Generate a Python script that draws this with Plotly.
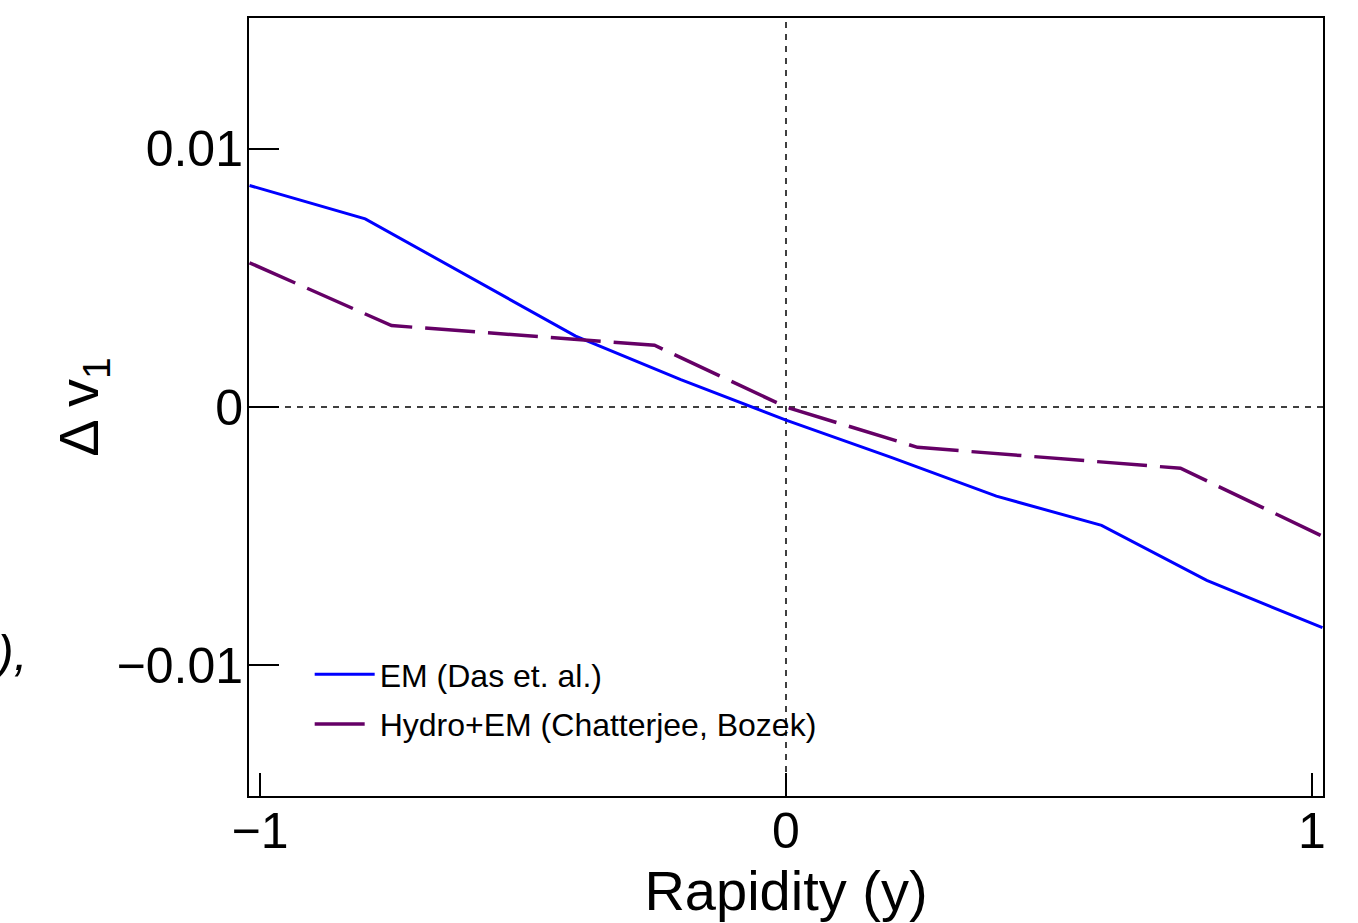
import plotly.graph_objects as go

# Data
em_y = [-1.02, -0.8, -0.4, -0.2, 0.0, 0.2, 0.4, 0.6, 0.8, 1.02]
em_v1 = [0.00857, 0.00728, 0.00274, 0.00106, -0.00051, -0.00195, -0.00345, -0.00458, -0.00671, -0.00854]

hydro_y = [-1.02, -0.75, -0.25, 0.0, 0.25, 0.75, 1.02]
hydro_v1 = [0.00558, 0.00315, 0.00239, 0.0, -0.00156, -0.00237, -0.00500]

ytick_vals = [-0.01, 0, 0.01]
ytick_text = ["\u22120.01", "0", "0.01"]
xtick_vals = [-1, 0, 1]
xtick_text = ["\u22121", "0", "1"]

FONT = "Liberation Sans, Arial, Helvetica, sans-serif"

fig = go.Figure()
fig.add_trace(go.Scatter(x=em_y, y=em_v1, mode="lines", name="EM (Das et. al.)",
                         legendgroup="a",
                         line=dict(color="#0000ff", width=3)))
fig.add_trace(go.Scatter(x=hydro_y, y=hydro_v1, mode="lines", name="Hydro+EM (Chatterjee, Bozek)",
                         legendgroup="b",
                         line=dict(color="#650066", width=3.5, dash="50px,13px")))

# reference dashed lines at 0
fig.add_shape(type="line", xref="x", yref="paper", x0=0, x1=0, y0=0, y1=1,
              line=dict(color="black", width=1.5, dash="6px,6px"), layer="below")
fig.add_shape(type="line", xref="paper", yref="y", x0=0, x1=1, y0=0, y1=0,
              line=dict(color="black", width=1.5, dash="6px,6px"), layer="below")

fig.add_annotation(text="<i>),</i>", xref="paper", yref="y", x=-0.204, y=-0.0095,
                   xanchor="right", yanchor="middle", showarrow=False,
                   font=dict(family=FONT, size=50, color="black"))

fig.update_layout(
    width=1358, height=923,
    margin=dict(l=249, r=35, t=18, b=127),
    paper_bgcolor="white", plot_bgcolor="white",
    font=dict(family=FONT, color="black"),
    showlegend=True,
    legend=dict(x=0.0565, y=0.1915, xanchor="left", yanchor="top",
                bgcolor="rgba(0,0,0,0)", font=dict(family=FONT, size=32),
                tracegroupgap=5, itemwidth=60),
    xaxis=dict(range=[-1.021, 1.021], tickvals=xtick_vals, ticktext=xtick_text,
               ticks="inside", ticklen=23, tickwidth=2, tickcolor="black",
               showline=True, linewidth=2, linecolor="black", mirror=True,
               showgrid=False, zeroline=False, automargin=False,
               ticklabelstandoff=-10,
               tickfont=dict(family=FONT, size=50),
               title=dict(text="Rapidity (y)", font=dict(family=FONT, size=56), standoff=10)),
    yaxis=dict(range=[-0.01505, 0.01505], tickvals=ytick_vals, ticktext=ytick_text,
               ticks="inside", ticklen=30, tickwidth=2, tickcolor="black",
               showline=True, linewidth=2, linecolor="black", mirror=True,
               showgrid=False, zeroline=False, automargin=False,
               ticklabelstandoff=-6,
               tickfont=dict(family=FONT, size=50),
               title=dict(text="\u0394 v<sub>1</sub>", font=dict(family=FONT, size=56), standoff=0)),
)

fig.write_html("out.html")
